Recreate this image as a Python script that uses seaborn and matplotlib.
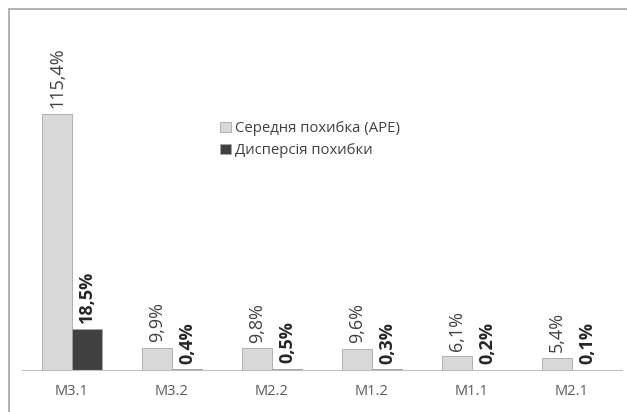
import pandas as pd
import seaborn as sns
import matplotlib.pyplot as plt
from matplotlib.lines import Line2D

# data
models = ['M3.1', 'M3.2', 'M2.2', 'M1.2', 'M1.1', 'M2.1']
ape = [115.4, 9.9, 9.8, 9.6, 6.1, 5.4]
disp = [18.5, 0.4, 0.5, 0.3, 0.2, 0.1]
series = ['Середня похибка (APE)', 'Дисперсія похибки']

df = pd.DataFrame({'model': models * 2,
                   'value': ape + disp,
                   'series': [series[0]] * len(models) + [series[1]] * len(models)})

sns.set_style('white')
plt.rcParams['font.family'] = ['Open Sans', 'DejaVu Sans']

W, H = 627, 412
fig = plt.figure(figsize=(W / 100, H / 100), dpi=100)
ax = fig.add_axes([22 / W, (H - 370) / H, 600 / W, 350 / H])

sns.barplot(data=df, x='model', y='value', hue='series', ax=ax,
            palette=['#d9d9d9', '#404040'], width=0.6, edgecolor='#a6a6a6',
            linewidth=0.6, legend=True)

fmt = lambda v: f'{v:.1f}%'.replace('.', ',')
ax.bar_label(ax.containers[0], labels=[fmt(v) for v in ape], rotation=90,
             padding=4, fontsize=13, color='#404040')
ax.bar_label(ax.containers[1], labels=[fmt(v) for v in disp], rotation=90,
             padding=4, fontsize=13, fontweight='bold', color='#262626')

ax.set_ylim(0, 157.8)
ax.set_xlim(-0.5, len(models) - 0.5)
ax.set_xlabel('')
ax.set_ylabel('')
ax.set_yticks([])
for s in ['top', 'right', 'left']:
    ax.spines[s].set_visible(False)
ax.spines['bottom'].set_color('#bfbfbf')
ax.tick_params(axis='x', which='major', length=0, pad=10, labelsize=10.5,
               labelcolor='#595959')
ax.set_xticks([i - 0.5 for i in range(len(models) + 1)], minor=True)
ax.tick_params(axis='x', which='minor', length=4, color='#bfbfbf', direction='out')

leg = ax.legend(loc='upper left', bbox_to_anchor=(185 / 600, 262 / 350), frameon=False,
                fontsize=10.7, handlelength=0.7, handleheight=0.7, handletextpad=0.3,
                labelspacing=0.45, labelcolor='#404040')

fig.add_artist(Line2D([9 / W, 9 / W], [0, 1 - 9 / H], transform=fig.transFigure,
                      color='#a6a6a6', lw=1.2))
fig.add_artist(Line2D([9 / W, 1], [1 - 9 / H, 1 - 9 / H], transform=fig.transFigure,
                      color='#a6a6a6', lw=1.2))

fig.savefig('out.png', dpi=100)
